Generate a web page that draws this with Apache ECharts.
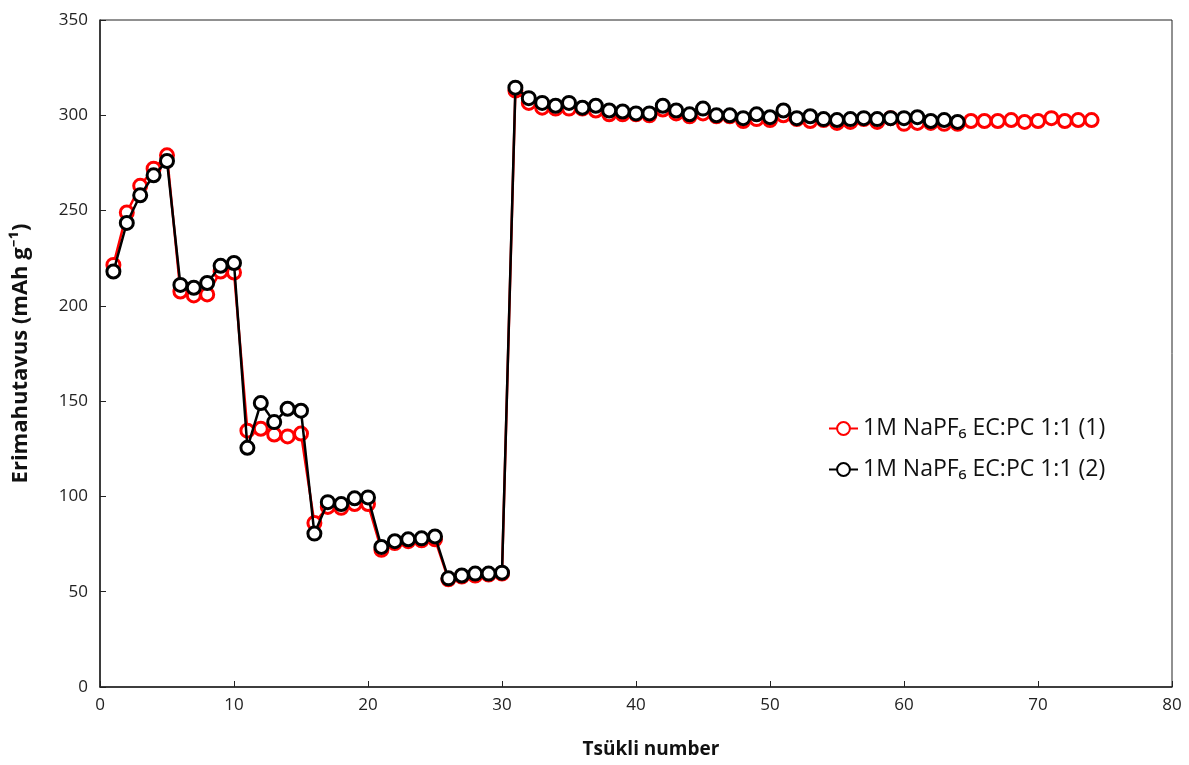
<!DOCTYPE html>
<html>
<head>
<meta charset="utf-8">
<script src="https://cdn.jsdelivr.net/npm/echarts@6/dist/echarts.min.js"></script>
<style>
  html, body { margin: 0; padding: 0; background: #fff; }
  #chart { width: 1189px; height: 765px; }
</style>
</head>
<body>
<div id="chart"></div>
<script>
// Discharge capacity per cycle for two cells
const cyclesA = Array.from({ length: 74 }, (_, i) => i + 1);
const cyclesB = Array.from({ length: 64 }, (_, i) => i + 1);

const capacityA = [
  221.5, 249, 263, 272, 279, 207.5, 205.5, 206, 218, 217.5,
  134.5, 135.5, 132.5, 131.5, 133, 86, 94.5, 94, 96, 96,
  72, 75.5, 76.5, 77, 77.5, 56.5, 58, 58.5, 59, 59.5,
  313, 306.5, 304, 303.5, 303.5, 303.5, 302.5, 300.5, 300.5, 300.5,
  300, 303, 301, 299.5, 301, 299.5, 299.5, 297, 298, 297.5,
  300, 298, 297, 297.5, 296, 296.5, 298, 296.5, 298.5, 295.5,
  296, 296, 295.5, 295.5, 297, 297, 297, 297.5, 296.5, 297,
  298.5, 297, 297.5, 297.5
];

const capacityB = [
  218, 243.5, 258, 268.5, 276, 211, 209.5, 212, 221, 222.5,
  125.5, 149, 139, 146, 145, 80.5, 97, 96, 99, 99.5,
  73.5, 76.5, 77.5, 78, 79, 57, 58.5, 59.5, 59.5, 60,
  314.5, 309, 306.5, 305, 306.5, 304, 305, 302.5, 302, 301,
  301, 305, 302.5, 300.5, 303.5, 300, 300, 298.5, 300.5, 299,
  302.5, 298.5, 299.5, 298, 297.5, 298, 298.5, 298, 298.5, 298.5,
  299, 297, 297.5, 296.5
];

const seriesNames = ['1M NaPF₆ EC:PC 1:1 (1)', '1M NaPF₆ EC:PC 1:1 (2)'];
const xTitle = 'Tsükli number';
const yTitle = 'Erimahutavus (mAh g⁻¹)';

const pair = (xs, ys) => xs.map((x, i) => [x, ys[i]]);
const font = '"Open Sans", "Noto Sans", sans-serif';

const chart = echarts.init(document.getElementById('chart'));
chart.setOption({
  animation: false,
  backgroundColor: '#fff',
  textStyle: { fontFamily: font },
  grid: {
    left: 100, right: 17, top: 20, bottom: 78,
    show: true, borderColor: '#222', borderWidth: 1
  },
  legend: {
    orient: 'vertical',
    left: 828, top: 417, padding: 0,
    itemWidth: 29, itemHeight: 16, itemGap: 18,
    textStyle: { fontSize: 23, color: '#111', fontFamily: font },
    data: seriesNames
  },
  xAxis: {
    type: 'value', min: 0, max: 80, interval: 10,
    name: xTitle, nameLocation: 'middle', nameGap: 53,
    nameTextStyle: { fontSize: 19, fontWeight: 'bold', color: '#111', padding: [0, 0, 0, 30] },
    axisLine: { lineStyle: { color: '#222', width: 1.5 } },
    axisTick: { inside: true, length: 6, lineStyle: { color: '#222' } },
    axisLabel: { fontSize: 17, color: '#222', margin: 10 },
    splitLine: { show: false }
  },
  yAxis: {
    type: 'value', min: 0, max: 350, interval: 50,
    name: yTitle, nameLocation: 'middle', nameGap: 68,
    nameTextStyle: { fontSize: 22, fontWeight: 'bold', color: '#111' },
    axisLine: { show: true, lineStyle: { color: '#222', width: 1.5 } },
    axisTick: { show: true, inside: true, length: 6, lineStyle: { color: '#222' } },
    axisLabel: { fontSize: 17, color: '#222', margin: 12 },
    splitLine: { show: false }
  },
  series: [
    {
      name: seriesNames[0], type: 'line',
      data: pair(cyclesA, capacityA),
      symbol: 'circle', symbolSize: 13,
      lineStyle: { color: '#ff0000', width: 2.5 },
      itemStyle: { color: '#fff', borderColor: '#ff0000', borderWidth: 3 },
      z: 2
    },
    {
      name: seriesNames[1], type: 'line',
      data: pair(cyclesB, capacityB),
      symbol: 'circle', symbolSize: 13,
      lineStyle: { color: '#000', width: 2.5 },
      itemStyle: { color: '#fff', borderColor: '#000', borderWidth: 3 },
      z: 3
    }
  ]
});
</script>
</body>
</html>
